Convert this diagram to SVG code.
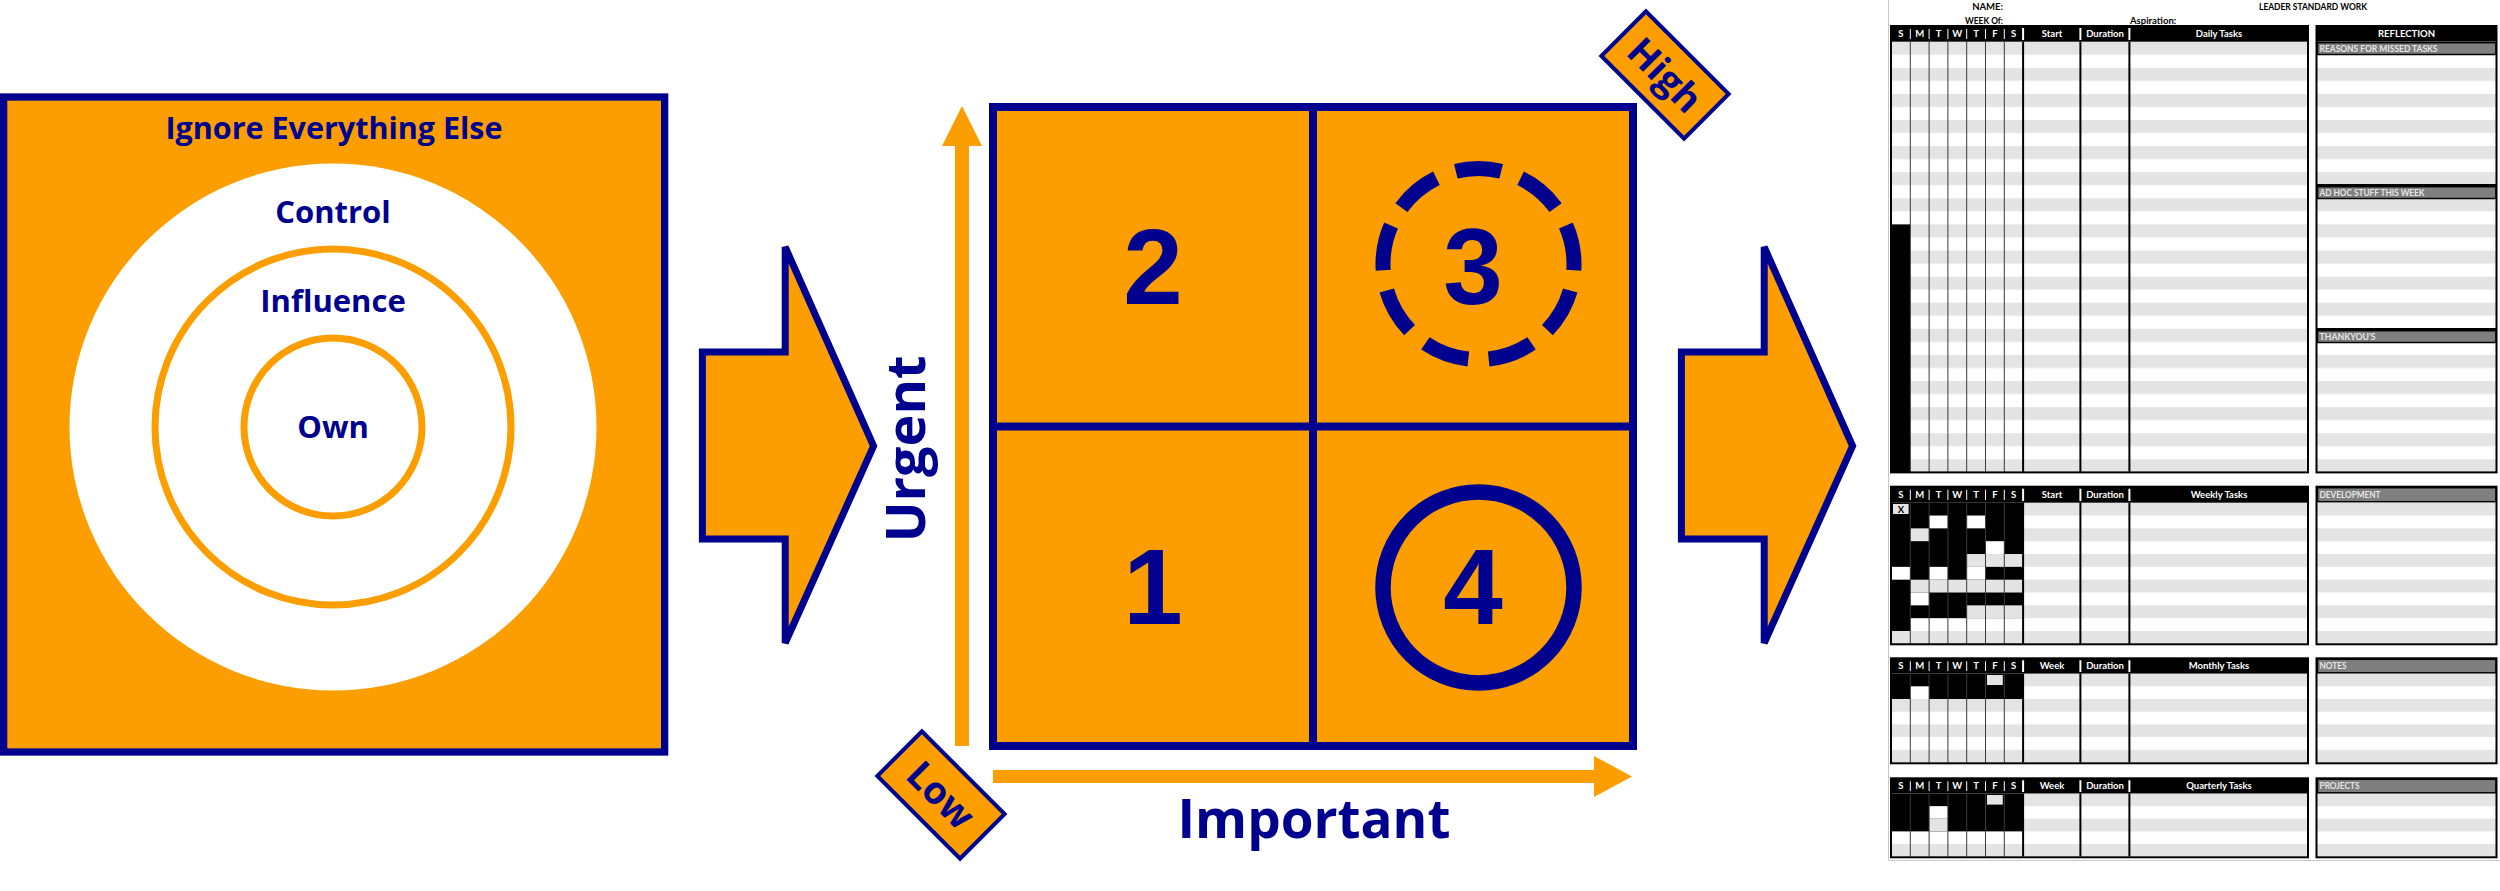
<svg xmlns="http://www.w3.org/2000/svg" width="2500" height="891" viewBox="0 0 2500 891">
<style>
.org{fill:#FC9E00}
.nvs{stroke:#00008F}
.t{font-family:'Open Sans','Liberation Sans',sans-serif;font-weight:700;fill:#00008F;text-anchor:middle}
.dg{font-family:'Liberation Sans',Arial,sans-serif;font-weight:700;font-size:107px;fill:#00008F;text-anchor:middle}
.f{font-family:Lato,'Liberation Sans',sans-serif;font-size:9.5px;font-weight:700}
.fh{fill:#ffffff;text-anchor:middle}
.fb{fill:#E6E6E6;font-size:9px}
.thin{stroke:#3a3a3a;stroke-width:1}
.thick{stroke:#000;stroke-width:2}
.hsep{stroke:#fff;stroke-width:1}
.hsepw{stroke:#fff;stroke-width:2}
.bar{fill:#7F7F7F;stroke:#000;stroke-width:1.5}
.box{fill:none;stroke:#000;stroke-width:2}
.g{fill:#E4E4E4}
.w{fill:#ffffff}
</style>
<defs>
<pattern id="stD" patternUnits="userSpaceOnUse" x="0" y="41.7" width="10" height="26.1"><rect width="10" height="13.05" fill="#E4E4E4"/></pattern>
<pattern id="stW" patternUnits="userSpaceOnUse" x="0" y="502.7" width="10" height="25.66"><rect width="10" height="12.83" fill="#E4E4E4"/></pattern>
<pattern id="stM" patternUnits="userSpaceOnUse" x="0" y="673.6" width="10" height="25.4"><rect width="10" height="12.7" fill="#E4E4E4"/></pattern>
<pattern id="stQ" patternUnits="userSpaceOnUse" x="0" y="793.5" width="10" height="25.24"><rect width="10" height="12.62" fill="#E4E4E4"/></pattern>
</defs>
<rect width="2500" height="891" fill="#ffffff"/>

<!-- Left: circles -->
<g id="circles">
<rect x="3.65" y="97" width="661" height="655" class="org nvs" stroke-width="7.3"/>
<circle cx="333" cy="427" r="263.5" fill="#ffffff"/>
<circle cx="333" cy="427" r="178" fill="none" stroke="#FC9E00" stroke-width="7"/>
<circle cx="333" cy="427" r="89" fill="none" stroke="#FC9E00" stroke-width="7"/>
<text class="t" x="334" y="139" font-size="30.5">Ignore Everything Else</text>
<text class="t" x="333" y="223" font-size="31">Control</text>
<text class="t" x="333" y="312" font-size="31">Influence</text>
<text class="t" x="333" y="438" font-size="31">Own</text>
</g>

<!-- Middle: matrix -->
<g id="matrix">
<rect x="993" y="107" width="640" height="639" class="org nvs" stroke-width="8"/>
<line x1="1313" y1="107" x2="1313" y2="746" class="nvs" stroke-width="8"/>
<line x1="993" y1="426.5" x2="1633" y2="426.5" class="nvs" stroke-width="8"/>
<text class="dg" x="1153" y="304">2</text>
<text class="dg" x="1473" y="304">3</text>
<text class="dg" x="1153" y="624">1</text>
<text class="dg" x="1473" y="624">4</text>
<circle cx="1478.5" cy="264" r="95.5" fill="none" class="nvs" stroke-width="15" pathLength="900" stroke-dasharray="69 31" stroke-dashoffset="-40.5"/>
<circle cx="1478.5" cy="587.5" r="95.5" fill="none" class="nvs" stroke-width="15.5"/>
</g>

<g id="axis-urgent">
<rect x="955" y="144" width="14" height="602" class="org"/>
<polygon points="942,146 962,106 982,146" class="org"/>
<text class="t" font-size="54" transform="translate(925,449) rotate(-90)">Urgent</text>
</g>
<g id="axis-important">
<rect x="993" y="770" width="603" height="13" class="org"/>
<polygon points="1594,756 1632,776.5 1594,797" class="org"/>
<text class="t" x="1314" y="838" font-size="53">Important</text>
</g>
<g id="label-low" transform="translate(941,795) rotate(45)">
<rect x="-58.5" y="-31.5" width="117" height="63" class="org nvs" stroke-width="4"/>
<text class="t" x="0" y="13.5" font-size="38">Low</text>
</g>
<g id="label-high" transform="translate(1665,75) rotate(45)">
<rect x="-58.5" y="-31.5" width="117" height="63" class="org nvs" stroke-width="4"/>
<text class="t" x="0" y="13.5" font-size="38">High</text>
</g>

<!-- Connectors: block arrows -->
<g id="connectors">
<polygon points="702.4,352 785.2,352 785.2,247 873.6,446 785.2,643 785.2,539 702.4,539" class="org nvs" stroke-width="7"/>
<polygon transform="translate(979,0)" points="702.4,352 785.2,352 785.2,247 873.6,446 785.2,643 785.2,539 702.4,539" class="org nvs" stroke-width="7"/>
</g>

<!-- Right: Leader standard work form -->
<g id="form">
<line x1="1888.5" y1="0" x2="1888.5" y2="860.5" stroke="#C8C8C8" stroke-width="1"/>
<line x1="1888.5" y1="860.5" x2="2500" y2="860.5" stroke="#C8C8C8" stroke-width="1"/>
<text class="f" x="2003" y="10" text-anchor="end">NAME:</text>
<text class="f" x="2003" y="23.5" text-anchor="end" textLength="38" lengthAdjust="spacingAndGlyphs">WEEK Of:</text>
<text class="f" x="2130" y="23.5" font-weight="400">Aspiration:</text>
<text class="f" x="2313" y="10" text-anchor="middle" textLength="108" lengthAdjust="spacingAndGlyphs">LEADER STANDARD WORK</text>

<!-- Daily table -->
<g id="daily">
<rect x="1891" y="41.7" width="417" height="430.7" fill="url(#stD)"/>
<rect x="1891.5" y="224.4" width="18.8" height="248" fill="#000"/>
<g class="thin"><line x1="1910.3" y1="41.7" x2="1910.3" y2="472.4"/><line x1="1929.1" y1="41.7" x2="1929.1" y2="472.4"/><line x1="1947.9" y1="41.7" x2="1947.9" y2="472.4"/><line x1="1966.7" y1="41.7" x2="1966.7" y2="472.4"/><line x1="1985.5" y1="41.7" x2="1985.5" y2="472.4"/><line x1="2004.3" y1="41.7" x2="2004.3" y2="472.4"/></g>
<g class="thick"><line x1="2023.1" y1="41.7" x2="2023.1" y2="472.4"/><line x1="2080.4" y1="41.7" x2="2080.4" y2="472.4"/><line x1="2129.4" y1="41.7" x2="2129.4" y2="472.4"/></g>
<rect x="1891" y="26" width="417" height="15.7" fill="#000"/>
<rect x="1891" y="26" width="417" height="446.4" class="box"/>
<g class="hsep"><line x1="1910.3" y1="29" x2="1910.3" y2="39"/><line x1="1929.1" y1="29" x2="1929.1" y2="39"/><line x1="1947.9" y1="29" x2="1947.9" y2="39"/><line x1="1966.7" y1="29" x2="1966.7" y2="39"/><line x1="1985.5" y1="29" x2="1985.5" y2="39"/><line x1="2004.3" y1="29" x2="2004.3" y2="39"/></g>
<g class="hsepw"><line x1="2023.1" y1="28" x2="2023.1" y2="40"/><line x1="2080.4" y1="28" x2="2080.4" y2="40"/><line x1="2129.4" y1="28" x2="2129.4" y2="40"/></g>
<g class="f fh"><text x="1900.9" y="37.2">S</text><text x="1919.7" y="37.2">M</text><text x="1938.5" y="37.2">T</text><text x="1957.3" y="37.2">W</text><text x="1976.1" y="37.2">T</text><text x="1994.9" y="37.2">F</text><text x="2013.7" y="37.2">S</text><text x="2052" y="37.2">Start</text><text x="2105" y="37.2">Duration</text><text x="2219" y="37.2">Daily Tasks</text></g>
</g>

<!-- Reflection panel -->
<g id="reflection">
<rect x="2317" y="41.7" width="179" height="430.7" fill="url(#stD)"/>
<rect x="2316.5" y="26" width="180" height="15.7" fill="#000"/>
<text class="f fh" x="2406.5" y="37.2">REFLECTION</text>
<rect x="2317.5" y="42.7" width="178.5" height="11.8" class="bar"/>
<text class="f fb" x="2319.5" y="51.8" textLength="118" lengthAdjust="spacingAndGlyphs">REASONS FOR MISSED TASKS</text>
<line x1="2316.5" y1="185" x2="2496.5" y2="185" class="thick"/>
<rect x="2317.5" y="186.7" width="178.5" height="11.8" class="bar"/>
<text class="f fb" x="2319.5" y="195.8" textLength="105" lengthAdjust="spacingAndGlyphs">AD HOC STUFF THIS WEEK</text>
<line x1="2316.5" y1="329" x2="2496.5" y2="329" class="thick"/>
<rect x="2317.5" y="330.7" width="178.5" height="11.8" class="bar"/>
<text class="f fb" x="2319.5" y="339.8" textLength="56" lengthAdjust="spacingAndGlyphs">THANKYOU'S</text>
<rect x="2316.5" y="26" width="180" height="446.4" class="box"/>
</g>

<!-- Weekly table -->
<g id="weekly">
<rect x="1891" y="502.7" width="417" height="141.1" fill="url(#stW)"/>
<rect x="1891.5" y="502.7" width="131.6" height="141.1" fill="#000"/>
<rect x="1893" y="504" width="15.6" height="10" class="g"/>
<text class="f" x="1900.9" y="512.5" text-anchor="middle" font-weight="400" font-size="9">X</text>
<rect x="1929.1" y="515.53" width="18.8" height="12.83" class="w"/>
<rect x="1966.7" y="515.53" width="18.8" height="12.83" class="w"/>
<rect x="1910.3" y="528.36" width="18.8" height="12.83" class="g"/>
<rect x="1985.5" y="541.19" width="18.8" height="12.83" class="w"/>
<rect x="1966.7" y="554.02" width="56.4" height="12.83" class="g"/>
<rect x="1891.5" y="566.85" width="18.8" height="12.83" class="w"/>
<rect x="1929.1" y="566.85" width="18.8" height="12.83" class="w"/>
<rect x="1966.7" y="566.85" width="18.8" height="12.83" class="w"/>
<rect x="1910.3" y="579.68" width="112.8" height="12.83" class="g"/>
<rect x="1910.3" y="592.51" width="18.8" height="12.83" class="w"/>
<rect x="1966.7" y="605.34" width="56.4" height="12.83" class="g"/>
<rect x="1910.3" y="618.17" width="112.8" height="12.83" class="w"/>
<rect x="1891.5" y="631" width="131.6" height="12.83" class="g"/>
<g class="thin"><line x1="1910.3" y1="502.7" x2="1910.3" y2="643.8"/><line x1="1929.1" y1="502.7" x2="1929.1" y2="643.8"/><line x1="1947.9" y1="502.7" x2="1947.9" y2="643.8"/><line x1="1966.7" y1="502.7" x2="1966.7" y2="643.8"/><line x1="1985.5" y1="502.7" x2="1985.5" y2="643.8"/><line x1="2004.3" y1="502.7" x2="2004.3" y2="643.8"/></g>
<g class="thick"><line x1="2023.1" y1="502.7" x2="2023.1" y2="643.8"/><line x1="2080.4" y1="502.7" x2="2080.4" y2="643.8"/><line x1="2129.4" y1="502.7" x2="2129.4" y2="643.8"/></g>
<rect x="1891" y="486.7" width="417" height="16" fill="#000"/>
<rect x="1891" y="486.7" width="417" height="157.6" class="box"/>
<g class="hsep"><line x1="1910.3" y1="489.7" x2="1910.3" y2="500"/><line x1="1929.1" y1="489.7" x2="1929.1" y2="500"/><line x1="1947.9" y1="489.7" x2="1947.9" y2="500"/><line x1="1966.7" y1="489.7" x2="1966.7" y2="500"/><line x1="1985.5" y1="489.7" x2="1985.5" y2="500"/><line x1="2004.3" y1="489.7" x2="2004.3" y2="500"/></g>
<g class="hsepw"><line x1="2023.1" y1="488.7" x2="2023.1" y2="501"/><line x1="2080.4" y1="488.7" x2="2080.4" y2="501"/><line x1="2129.4" y1="488.7" x2="2129.4" y2="501"/></g>
<g class="f fh"><text x="1900.9" y="498">S</text><text x="1919.7" y="498">M</text><text x="1938.5" y="498">T</text><text x="1957.3" y="498">W</text><text x="1976.1" y="498">T</text><text x="1994.9" y="498">F</text><text x="2013.7" y="498">S</text><text x="2052" y="498">Start</text><text x="2105" y="498">Duration</text><text x="2219" y="498">Weekly Tasks</text></g>
</g>
<g id="development">
<rect x="2317" y="502.7" width="179" height="141.1" fill="url(#stW)"/>
<rect x="2317.5" y="487.7" width="178.5" height="14" class="bar"/>
<text class="f fb" x="2319.5" y="498" textLength="61" lengthAdjust="spacingAndGlyphs">DEVELOPMENT</text>
<rect x="2316.5" y="486.7" width="180" height="157.6" class="box"/>
</g>

<!-- Monthly table -->
<g id="monthly">
<rect x="1891" y="673.6" width="417" height="88.9" fill="url(#stM)"/>
<rect x="1891.5" y="673.6" width="131.6" height="25.4" fill="#000"/>
<rect x="1987" y="675" width="15.8" height="10" class="g"/>
<rect x="1910.3" y="686.3" width="18.8" height="12.7" class="w"/>
<g class="thin"><line x1="1910.3" y1="673.6" x2="1910.3" y2="762.5"/><line x1="1929.1" y1="673.6" x2="1929.1" y2="762.5"/><line x1="1947.9" y1="673.6" x2="1947.9" y2="762.5"/><line x1="1966.7" y1="673.6" x2="1966.7" y2="762.5"/><line x1="1985.5" y1="673.6" x2="1985.5" y2="762.5"/><line x1="2004.3" y1="673.6" x2="2004.3" y2="762.5"/></g>
<g class="thick"><line x1="2023.1" y1="673.6" x2="2023.1" y2="762.5"/><line x1="2080.4" y1="673.6" x2="2080.4" y2="762.5"/><line x1="2129.4" y1="673.6" x2="2129.4" y2="762.5"/></g>
<rect x="1891" y="658.3" width="417" height="15.3" fill="#000"/>
<rect x="1891" y="658.3" width="417" height="105" class="box"/>
<g class="hsep"><line x1="1910.3" y1="661.3" x2="1910.3" y2="671"/><line x1="1929.1" y1="661.3" x2="1929.1" y2="671"/><line x1="1947.9" y1="661.3" x2="1947.9" y2="671"/><line x1="1966.7" y1="661.3" x2="1966.7" y2="671"/><line x1="1985.5" y1="661.3" x2="1985.5" y2="671"/><line x1="2004.3" y1="661.3" x2="2004.3" y2="671"/></g>
<g class="hsepw"><line x1="2023.1" y1="660.3" x2="2023.1" y2="672"/><line x1="2080.4" y1="660.3" x2="2080.4" y2="672"/><line x1="2129.4" y1="660.3" x2="2129.4" y2="672"/></g>
<g class="f fh"><text x="1900.9" y="669.4">S</text><text x="1919.7" y="669.4">M</text><text x="1938.5" y="669.4">T</text><text x="1957.3" y="669.4">W</text><text x="1976.1" y="669.4">T</text><text x="1994.9" y="669.4">F</text><text x="2013.7" y="669.4">S</text><text x="2052" y="669.4">Week</text><text x="2105" y="669.4">Duration</text><text x="2219" y="669.4">Monthly Tasks</text></g>
</g>
<g id="notes">
<rect x="2317" y="673.6" width="179" height="88.9" fill="url(#stM)"/>
<rect x="2317.5" y="659.3" width="178.5" height="13.5" class="bar"/>
<text class="f fb" x="2319.5" y="669.4" textLength="27" lengthAdjust="spacingAndGlyphs">NOTES</text>
<rect x="2316.5" y="658.3" width="180" height="105" class="box"/>
</g>

<!-- Quarterly table -->
<g id="quarterly">
<rect x="1891" y="793.5" width="417" height="63.1" fill="url(#stQ)"/>
<rect x="1891.5" y="793.5" width="131.6" height="37.86" fill="#000"/>
<rect x="1987" y="795" width="15.8" height="9.6" class="g"/>
<rect x="1929.1" y="806.12" width="18.8" height="12.62" class="w"/>
<rect x="1929.1" y="818.74" width="18.8" height="12.62" class="g"/>
<g class="thin"><line x1="1910.3" y1="793.5" x2="1910.3" y2="856.6"/><line x1="1929.1" y1="793.5" x2="1929.1" y2="856.6"/><line x1="1947.9" y1="793.5" x2="1947.9" y2="856.6"/><line x1="1966.7" y1="793.5" x2="1966.7" y2="856.6"/><line x1="1985.5" y1="793.5" x2="1985.5" y2="856.6"/><line x1="2004.3" y1="793.5" x2="2004.3" y2="856.6"/></g>
<g class="thick"><line x1="2023.1" y1="793.5" x2="2023.1" y2="856.6"/><line x1="2080.4" y1="793.5" x2="2080.4" y2="856.6"/><line x1="2129.4" y1="793.5" x2="2129.4" y2="856.6"/></g>
<rect x="1891" y="778.3" width="417" height="15.2" fill="#000"/>
<rect x="1891" y="778.3" width="417" height="79" class="box"/>
<g class="hsep"><line x1="1910.3" y1="781.3" x2="1910.3" y2="791"/><line x1="1929.1" y1="781.3" x2="1929.1" y2="791"/><line x1="1947.9" y1="781.3" x2="1947.9" y2="791"/><line x1="1966.7" y1="781.3" x2="1966.7" y2="791"/><line x1="1985.5" y1="781.3" x2="1985.5" y2="791"/><line x1="2004.3" y1="781.3" x2="2004.3" y2="791"/></g>
<g class="hsepw"><line x1="2023.1" y1="780.3" x2="2023.1" y2="792"/><line x1="2080.4" y1="780.3" x2="2080.4" y2="792"/><line x1="2129.4" y1="780.3" x2="2129.4" y2="792"/></g>
<g class="f fh"><text x="1900.9" y="789.3">S</text><text x="1919.7" y="789.3">M</text><text x="1938.5" y="789.3">T</text><text x="1957.3" y="789.3">W</text><text x="1976.1" y="789.3">T</text><text x="1994.9" y="789.3">F</text><text x="2013.7" y="789.3">S</text><text x="2052" y="789.3">Week</text><text x="2105" y="789.3">Duration</text><text x="2219" y="789.3">Quarterly Tasks</text></g>
</g>
<g id="projects">
<rect x="2317" y="793.5" width="179" height="63.1" fill="url(#stQ)"/>
<rect x="2317.5" y="779.3" width="178.5" height="13.5" class="bar"/>
<text class="f fb" x="2319.5" y="789.3" textLength="40" lengthAdjust="spacingAndGlyphs">PROJECTS</text>
<rect x="2316.5" y="778.3" width="180" height="79" class="box"/>
</g>
</g>
</svg>
